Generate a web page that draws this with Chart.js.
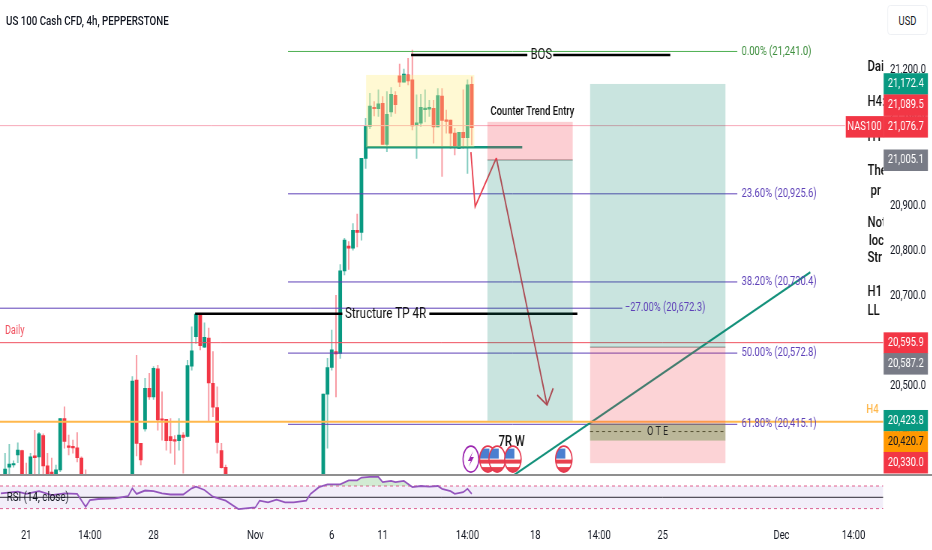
<!DOCTYPE html>
<html lang="en">
<head>
<meta charset="UTF-8">
<title>US 100 Cash CFD, 4h</title>
<script src="https://cdn.jsdelivr.net/npm/chart.js@4"></script>
<style>
    html, body { margin: 0; padding: 0; background: #fff; width: 932px; height: 550px; overflow: hidden; }
    /* the whole screenshot is squeezed sideways, so the page is too */
    #page { position: absolute; left: 0; top: 0; width: 1243px; height: 550px; transform: scaleX(0.75); transform-origin: 0 0;
            font-family: Roboto, "Open Sans", sans-serif; color: #131722; }
    #title { position: absolute; left: 8px; top: 13px; font-size: 13px; font-weight: 500; z-index: 2; }
    #usd { position: absolute; left: 1183px; top: 5px; width: 54px; height: 30px; line-height: 30px; text-align: center; font-size: 12.5px;
           border: 1px solid #eceef2; border-radius: 4px; box-sizing: border-box; background: #fff; z-index: 2; }
    #mainBox { position: absolute; left: 0; top: 0; width: 1243px; height: 474px; }
    #sep { position: absolute; left: 0; top: 474px; width: 1243px; height: 2px; background: #8f8f8f; z-index: 2; }
    #rsiBox { position: absolute; left: 0; top: 476px; width: 1243px; height: 74px; }
</style>
</head>
<body>
<div id="page">
<div id="title">US 100 Cash CFD, 4h, PEPPERSTONE</div>
<div id="usd">USD</div>
<div id="mainBox"><canvas id="mainChart"></canvas></div>
<div id="sep"></div>
<div id="rsiBox"><canvas id="rsiChart"></canvas></div>
</div>

<script>
// candles, left cluster to last bar
var barIndex = [1,2,3,4,5,6,7,8,9,10,11,12,13,14,15,16,17,18,19,20,
    31,32,33,34,35,36,37,38,39,40,41,42,43,44,45,46,47,48,49,50,51,52,53,
    76,77,78,79,80,81,82,83,84,85,86,87,88,89,90,91,92,93,94,95,96,97,98,99,100,101,102,103,104,105,106,107,108,109,110,111];
var opens = [20301,20320,20325,20347,20357,20300,20300,20345,20343,20390,20323,20309,20300,20314,20428,20367,20366,20363,20340,20295,
    20300,20513,20373,20405,20495,20476,20538,20425,20426,20388,20380,20379,20391,20388,20544,20609,20657,20586,20606,20506,20452,20357,20320,
    20290,20482,20541,20576,20572,20755,20810,20805,20845,20840,21004,21075,21117,21114,21126,21035,21107,21144,21187,21173,21189,21178,21077,21082,21112,21113,21115,21074,21142,21088,21089,21060,21026,21062,21050,21168];
var highs = [20351,20371,20334,20374,20358,20329,20351,20402,20397,20394,20351,20340,20325,20428,20454,20391,20380,20397,20343,20314,
    20521,20568,20373,20517,20528,20543,20546,20487,20426,20428,20390,20428,20397,20557,20631,20659,20657,20640,20628,20576,20498,20373,20325,
    20482,20561,20624,20701,20769,20827,20820,20860,20881,21004,21093,21148,21130,21156,21141,21152,21161,21152,21213,21202,21226,21244,21145,21146,21156,21133,21133,21159,21159,21111,21089,21071,21062,21156,21178,21185];
var lows = [20296,20303,20320,20330,20295,20285,20290,20300,20305,20303,20298,20295,20296,20310,20362,20347,20351,20332,20290,20285,
    20290,20345,20325,20400,20470,20470,20402,20380,20358,20351,20326,20358,20307,20387,20535,20594,20580,20585,20421,20432,20351,20318,20300,
    20290,20362,20535,20476,20561,20746,20758,20801,20808,20823,20982,21070,21098,21097,21035,21019,21097,21104,21163,21173,21167,21067,21004,21075,21085,21097,21038,21074,20964,21060,21026,21012,21026,21026,20971,21034];
var closes = [20316,20327,20326,20358,20300,20290,20343,20341,20394,20323,20304,20298,20314,20428,20377,20364,20363,20341,20295,20290,
    20511,20373,20336,20495,20476,20539,20425,20424,20379,20379,20378,20391,20386,20545,20578,20659,20589,20608,20507,20453,20375,20319,20303,
    20482,20541,20580,20571,20755,20823,20805,20845,20840,21004,21075,21120,21114,21125,21035,21102,21146,21123,21173,21191,21176,21076,21083,21117,21115,21117,21074,21143,21088,21086,21060,21032,21062,21050,21167,21072];

// RSI (14, close)
var rsiBars = [0,4,6,9,12,15,18,20,21,23,27,30,31,32,34,36,38,40,43,45,46,48,50,53,56,60,61,63,65,67,69,72,73,75,77,79,80,82,84,85,87,89,90,92,93,95,97,99,101,103,104,106,107,109,110,111];
var rsiValues = [57,60,56,61,54,57,56,33,45,47,48,52,66,56,62,61,57,55,55,66,69,63,51,44,29,32,44,41,46,41,41,44,56,68,73,73,73,80,80,85,86,86,77,79,77,79,68,70,69,70,65,61,56,59,65,56];

// axis
var priceTicks = [21200,21100,21000,20900,20800,20700,20600,20500,20400];
var timeTickBars = [6,21,36,60,78,90,110,126,141,156,184,201];
var timeTickLabels = ['21','14:00','28','Nov','6','11','14:00','18','14:00','25','Dec','14:00'];

// fib levels
var fibPrices = [21241,20925.6,20730.4,20572.8,20415.1];
var fibLabels = ['0.00% (21,241.0)','23.60% (20,925.6)','38.20% (20,730.4)','50.00% (20,572.8)','61.80% (20,415.1)'];
var fibStartBar = 67.7, fibEndBar = 173.6;
var extPrice = 20672.3, extEndBar = 146.5, extLabel = '\u221227.00% (20,672.3)';

// horizontal levels
var lastPrice = 21076.7, lastEndBar = 199;
var dailyPrice = 20595.9;
var h4Price = 20420.7;

// drawn lines [bar, price]
var bosLeft = [[96.7,21233],[124.1,21233]];
var bosRight = [[130.2,21233],[157.8,21233]];
var tpLeft = [[45.8,20660],[80.5,20660]];
var tpRight = [[101,20660],[135.9,20660]];
var rangeLine = [[86.1,21029],[122.9,21029]];
var zigzag = [[110.8,21018],[111.8,20897],[116.8,21005]];
var downMove = [[116.8,21005],[128.75,20458]];
var downHead = [[126.4,20480],[128.75,20458],[130.2,20495]];
var trendLine = [[121,20303],[190.8,20752]];
var oteLeft = [[138.9,20399],[151.2,20399]];
var oteRight = [[158.3,20399],[170.8,20399]];
var entryEdge = [[114.7,21000.6],[134.8,21000.6]];
var bigEdge = [[138.9,20586],[170.8,20586]];

// boxes [bar from, bar to, price top, price bottom]
var rangeBox = [86.1,111.6,21189,21029];
var stopBox = [114.7,134.8,21085,21000.6];
var targetBox = [114.7,134.8,21000.6,20423];
var bigTargetBox = [138.9,170.8,21169,20586];
var bigStopBox = [138.9,170.8,20586,20329];
var oteBox = [138.9,170.8,20417,20379];

// news events
var lightningBars = [110.8];
var flagBars = [114.8,117,120.7,132.7];
var eventPrice = 20338;

// right side price tags
var tagValues = [21172.4,21089.5,21076.7,21005.1,20595.9,20587.2,20423.8,20420.7,20330.0];
var tagPlaces = [21169,21122,21074,21000,20595,20549,20423,20376,20330];
var tagKinds = ['green','red','red','gray','red','gray','green','orange','red'];

// note text cut by the price scale
var noteTexts = ['Dai','H4:','H1','The','pr','Not','loc','Str','H1','LL'];
var noteBars = [204.3,204.3,204.3,204.3,205,204.3,204.6,204.3,204.3,204.3];
var notePrices = [21207,21129,21050,20976,20932,20861,20821,20783,20708,20666];

var green = '#089981', red = '#f23645', purple = '#5e41b8', FONT = 'Roboto, "Open Sans", sans-serif';
var tagColors = { green: green, red: red, gray: '#787b86', orange: '#ff9800' };
var xMin = -0.19, xMax = 208;
var yMin = 20305, yMax = 21355;
var axisWidth = 65.3;

function pts(list) {
    return list.map(function (p) { return { x: p[0], y: p[1] }; });
}
function seg(list, color, width, dash) {
    return { type: 'line', data: pts(list), borderColor: color, borderWidth: width, borderDash: dash || [],
             pointRadius: 0, tension: 0, fill: false, order: 1, borderCapStyle: 'butt' };
}

var body = barIndex.map(function (b, i) { return { x: b, y: [opens[i], closes[i]] }; });
var wick = barIndex.map(function (b, i) { return { x: b, y: [lows[i], highs[i]] }; });
function isUp(ctx) { return closes[ctx.dataIndex] >= opens[ctx.dataIndex]; }

var datasets = [
    { type: 'bar', data: wick, barThickness: 1.3, grouped: false, order: 4,
      backgroundColor: function (ctx) { return isUp(ctx) ? 'rgba(8,153,129,.5)' : 'rgba(242,54,69,.5)'; } },
    { type: 'bar', data: body, barThickness: 4.2, minBarLength: 1.5, grouped: false, order: 3,
      backgroundColor: function (ctx) { return isUp(ctx) ? green : red; } },
    seg([[xMin, lastPrice], [lastEndBar, lastPrice]], '#f7a8b8', 1),
    seg([[xMin, dailyPrice], [xMax, dailyPrice]], '#f0515f', 1),
    seg([[xMin, h4Price], [xMax, h4Price]], '#ffb84d', 2),
    seg([[xMin, extPrice], [extEndBar, extPrice]], purple, 1),
    seg(bosLeft, '#000', 2.5), seg(bosRight, '#000', 2.5),
    seg(tpLeft, '#000', 2.5), seg(tpRight, '#000', 2.5),
    seg(rangeLine, '#14977f', 2.5),
    seg(zigzag, '#e8414f', 1.8),
    seg(downMove, '#d9394a', 1.8), seg(downHead, '#d9394a', 1.8),
    seg(trendLine, '#14917b', 2.2),
    seg(entryEdge, '#8a8a8a', 1), seg(bigEdge, '#8a8a8a', 1),
    seg(oteLeft, '#222', 1, [4, 4]), seg(oteRight, '#222', 1, [4, 4])
];
fibPrices.forEach(function (p, i) {
    datasets.push(seg([[fibStartBar, p], [fibEndBar, p]], i === 0 ? '#4caf50' : purple, 1));
});

function box(ctx, scales, b, color) {
    var x1 = scales.x.getPixelForValue(b[0]), x2 = scales.x.getPixelForValue(b[1]);
    var y1 = scales.y.getPixelForValue(b[2]), y2 = scales.y.getPixelForValue(b[3]);
    ctx.fillStyle = color;
    ctx.fillRect(x1, y1, x2 - x1, y2 - y1);
}
function label(ctx, scales, text, bar, price, align, color, font) {
    ctx.font = font;
    ctx.fillStyle = color;
    ctx.textAlign = align;
    ctx.textBaseline = 'middle';
    ctx.fillText(text, scales.x.getPixelForValue(bar), scales.y.getPixelForValue(price));
}
function drawLightning(ctx, x, y) {
    ctx.beginPath(); ctx.ellipse(x, y, 10.5, 13, 0, 0, Math.PI * 2);
    ctx.fillStyle = '#fff'; ctx.fill();
    ctx.strokeStyle = '#9c27b0'; ctx.lineWidth = 1.6; ctx.stroke();
    ctx.beginPath();
    ctx.moveTo(x + 3, y - 8); ctx.lineTo(x - 4, y + 2); ctx.lineTo(x, y + 2);
    ctx.lineTo(x - 3, y + 8); ctx.lineTo(x + 4, y - 2); ctx.lineTo(x, y - 2);
    ctx.closePath();
    ctx.fillStyle = '#9c27b0'; ctx.fill();
}
function drawFlag(ctx, x, y) {
    var rx = 11, ry = 13;
    ctx.save();
    ctx.beginPath(); ctx.ellipse(x, y, rx, ry, 0, 0, Math.PI * 2);
    ctx.fillStyle = '#fff'; ctx.fill();
    ctx.clip();
    ctx.fillStyle = '#e8414f';
    ctx.fillRect(x - rx, y + 0.5, 2 * rx, 4);
    ctx.fillRect(x - rx, y + 8, 2 * rx, 6);
    ctx.fillStyle = '#4a7fd0';
    ctx.fillRect(x - rx, y - ry + 2.5, rx + 2, ry - 3);
    ctx.restore();
    ctx.beginPath(); ctx.ellipse(x, y, rx, ry, 0, 0, Math.PI * 2);
    ctx.strokeStyle = '#e53950'; ctx.lineWidth = 1.6; ctx.stroke();
}

var overlay = {
    id: 'overlay',
    afterDatasetsDraw: function (chart) {
        var ctx = chart.ctx, s = chart.scales, a = chart.chartArea;
        ctx.save();
        ctx.beginPath(); ctx.rect(a.left, a.top, a.width, a.height); ctx.clip();
        box(ctx, s, rangeBox, 'rgba(255,238,130,.35)');
        box(ctx, s, stopBox, 'rgba(242,54,69,.24)');
        box(ctx, s, targetBox, 'rgba(8,130,110,.22)');
        box(ctx, s, bigTargetBox, 'rgba(8,130,110,.22)');
        box(ctx, s, bigStopBox, 'rgba(242,54,69,.22)');
        box(ctx, s, oteBox, 'rgba(90,140,60,.4)');

        var fibFont = '12.5px ' + FONT;
        fibLabels.forEach(function (t, i) {
            label(ctx, s, t, fibEndBar + 1, fibPrices[i], 'left', i === 0 ? '#3f8f3f' : purple, fibFont);
        });
        label(ctx, s, extLabel, extEndBar + 0.6, extPrice, 'left', purple, fibFont);

        label(ctx, s, 'BOS', 127.4, 21233, 'center', '#111', '15px ' + FONT);
        label(ctx, s, 'Structure TP 4R', 90.7, 20660, 'center', '#111', '15.5px ' + FONT);
        label(ctx, s, 'Counter Trend Entry', 125.3, 21107, 'center', '#111', '500 12.5px ' + FONT);
        label(ctx, s, '7R W', 120.4, 20376, 'center', '#111', '500 15px ' + FONT);
        label(ctx, s, 'O T E', 154.8, 20399, 'center', '#222', '12px ' + FONT);
        label(ctx, s, 'Daily', 1, 20622, 'left', '#f0515f', '12px ' + FONT);
        label(ctx, s, 'H4', 204, 20447, 'left', '#ffb84d', '500 13px ' + FONT);
        noteTexts.forEach(function (t, i) {
            label(ctx, s, t, noteBars[i], notePrices[i], 'left', '#111', '500 15px ' + FONT);
        });

        lightningBars.forEach(function (b) {
            drawLightning(ctx, s.x.getPixelForValue(b), s.y.getPixelForValue(eventPrice));
        });
        flagBars.forEach(function (b) {
            drawFlag(ctx, s.x.getPixelForValue(b), s.y.getPixelForValue(eventPrice));
        });
        ctx.restore();

        // NAS100 flag and the price tags on the scale
        var h = 21.5, left = a.right + 0.5, w = 59;
        var ny = s.y.getPixelForValue(tagPlaces[2]);
        ctx.fillStyle = red;
        ctx.fillRect(a.right - 50, ny - h / 2, 51, h);
        ctx.fillStyle = '#fff';
        ctx.font = '12.5px ' + FONT;
        ctx.textAlign = 'center';
        ctx.textBaseline = 'middle';
        ctx.fillText('NAS100', a.right - 25, ny);
        tagValues.forEach(function (v, i) {
            var y = s.y.getPixelForValue(tagPlaces[i]);
            ctx.fillStyle = tagColors[tagKinds[i]];
            ctx.fillRect(left, y - h / 2, w, h);
            ctx.fillStyle = tagKinds[i] === 'orange' ? '#131722' : '#fff';
            ctx.font = '12.5px ' + FONT;
            ctx.textAlign = 'center';
            ctx.textBaseline = 'middle';
            ctx.fillText(v.toLocaleString('en-US', { minimumFractionDigits: 1 }), left + w / 2, y);
        });
    }
};

new Chart(document.getElementById('mainChart'), {
    data: { datasets: datasets },
    plugins: [overlay],
    options: {
        responsive: true, maintainAspectRatio: false, animation: false,
        layout: { padding: 0, autoPadding: false },
        plugins: { legend: { display: false }, tooltip: { enabled: false } },
        scales: {
            x: { type: 'linear', min: xMin, max: xMax, display: false, offset: false },
            y: {
                position: 'right', min: yMin, max: yMax,
                grid: { display: false }, border: { display: false },
                afterBuildTicks: function (axis) { axis.ticks = priceTicks.map(function (v) { return { value: v }; }); },
                afterFit: function (axis) { axis.width = axisWidth; axis.paddingTop = 0; axis.paddingBottom = 0; },
                ticks: { padding: 1, color: '#131722', font: { size: 12.5, family: FONT },
                    callback: function (v) { return Number(v).toLocaleString('en-US', { minimumFractionDigits: 1 }); } }
            }
        }
    }
});

var rsiPoints = rsiBars.map(function (b, i) { return { x: b, y: rsiValues[i] }; });
new Chart(document.getElementById('rsiChart'), {
    data: { datasets: [
        { type: 'line', data: rsiPoints, borderColor: '#9455bd', borderWidth: 1.8, pointRadius: 0, tension: 0, order: 1,
          fill: { target: { value: 70 }, above: 'rgba(76,175,80,.25)', below: 'rgba(0,0,0,0)' } },
        { type: 'line', data: pts([[xMin, 70], [xMax, 70]]), borderColor: '#e0608f', borderWidth: 1, borderDash: [4, 4], pointRadius: 0,
          fill: '+1', backgroundColor: 'rgba(126,87,194,.1)', order: 2 },
        { type: 'line', data: pts([[xMin, 30], [xMax, 30]]), borderColor: '#e0608f', borderWidth: 1, borderDash: [4, 4], pointRadius: 0, fill: false, order: 2 },
        { type: 'line', data: pts([[xMin, 50], [xMax, 50]]), borderColor: '#222', borderWidth: 1, pointRadius: 0, fill: false, order: 2 }
    ] },
    plugins: [{
        id: 'rsiTitle',
        afterDatasetsDraw: function (chart) {
            var ctx = chart.ctx;
            ctx.font = '13px ' + FONT;
            ctx.fillStyle = '#131722';
            ctx.textAlign = 'left';
            ctx.textBaseline = 'middle';
            ctx.fillText('RSI (14, close)', 9, chart.scales.y.getPixelForValue(50));
        }
    }],
    options: {
        responsive: true, maintainAspectRatio: false, animation: false,
        layout: { padding: 0, autoPadding: false },
        plugins: { legend: { display: false }, tooltip: { enabled: false } },
        scales: {
            x: {
                type: 'linear', min: xMin, max: xMax, offset: false,
                grid: { display: false }, border: { display: false },
                afterBuildTicks: function (axis) { axis.ticks = timeTickBars.map(function (v) { return { value: v }; }); },
                afterFit: function (axis) { axis.height = 35; axis.paddingLeft = 0; axis.paddingRight = 0; },
                ticks: { autoSkip: false, maxRotation: 0, padding: 5, color: '#131722', font: { size: 12.5, family: FONT },
                    callback: function (v) { return timeTickLabels[timeTickBars.indexOf(v)]; } }
            },
            y: {
                position: 'right', min: 18.7, max: 87.7,
                grid: { display: false }, border: { display: false },
                afterFit: function (axis) { axis.width = axisWidth; },
                ticks: { display: false }
            }
        }
    }
});
</script>
</body>
</html>
